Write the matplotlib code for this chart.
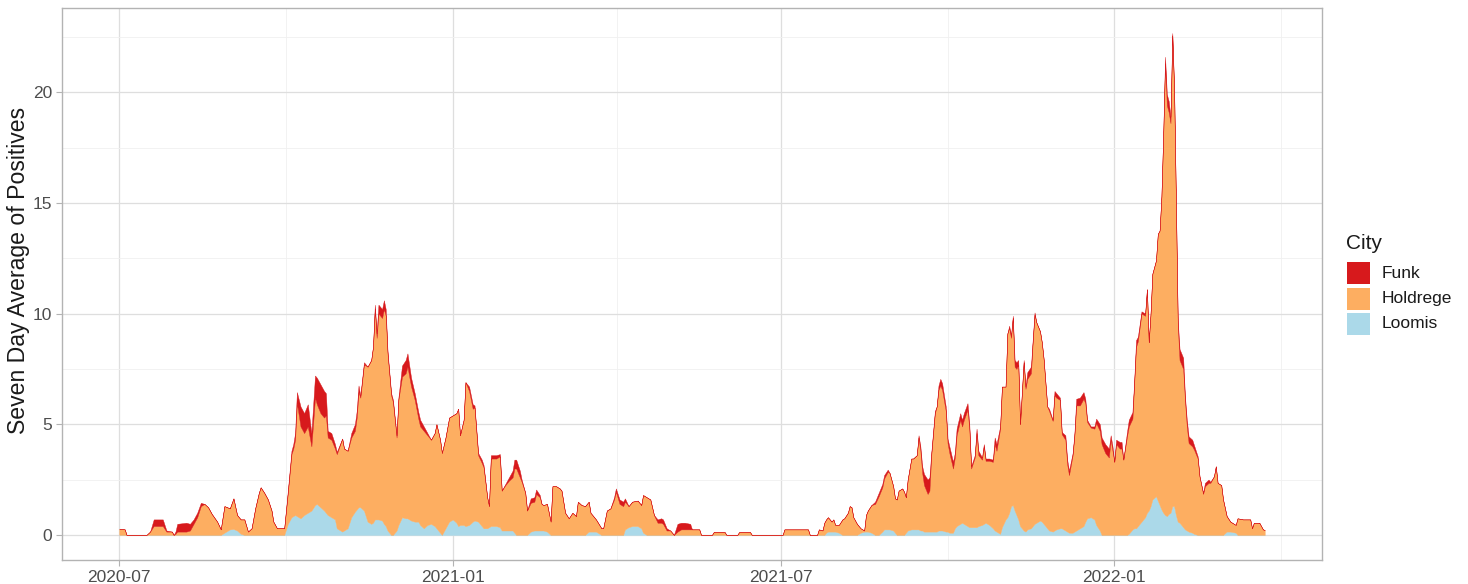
import numpy as np
import pandas as pd
import matplotlib
matplotlib.use("Agg")
import matplotlib.pyplot as plt
import matplotlib.dates as mdates
from matplotlib.patches import Rectangle
from matplotlib.ticker import FixedLocator, MultipleLocator

plt.rcParams['font.family'] = ['Liberation Sans', 'DejaVu Sans']

# ==== Data (days since 2020-07-01, seven day averages per city) ====
start = "2020-07-01"

day = [0, 3, 4, 15, 17, 19, 24, 26, 29, 30,
       31, 32, 37, 39, 41, 43, 45, 47, 49, 51,
       54, 56, 58, 61, 63, 65, 67, 69, 71, 73,
       75, 77, 78, 80, 82, 84, 85, 87, 91, 93,
       95, 96, 97, 98, 100, 102, 104, 106, 108, 109,
       111, 113, 114, 115, 117, 119, 120, 123, 124, 126,
       128, 130, 131, 132, 133, 135, 137, 139, 140, 141,
       142, 143, 145, 146, 147, 148, 150, 151, 153, 154,
       156, 158, 159, 161, 163, 165, 166, 168, 170, 172,
       174, 175, 177, 178, 180, 182, 184, 186, 187, 188,
       190, 191, 193, 195, 196, 198, 200, 201, 203, 204,
       205, 208, 210, 211, 213, 215, 217, 218, 219, 221,
       222, 224, 225, 227, 229, 230, 232, 233, 234, 236,
       238, 239, 241, 243, 244, 246, 248, 250, 252, 253,
       255, 257, 259, 260, 263, 266, 267, 269, 271, 273,
       274, 276, 278, 279, 281, 283, 286, 288, 289, 291,
       293, 295, 297, 299, 300, 302, 304, 306, 308, 310,
       312, 315, 316, 320, 321, 327, 328, 334, 335, 341,
       342, 348, 349, 366, 367, 380, 381, 385, 386, 388,
       389, 390, 391, 393, 394, 395, 397, 399, 400, 402,
       403, 404, 405, 407, 409, 411, 412, 413, 415, 417,
       419, 421, 422, 424, 425, 427, 428, 429, 430, 432,
       433, 434, 435, 437, 438, 440, 441, 442, 443, 444,
       446, 447, 448, 450, 451, 452, 453, 454, 456, 457,
       458, 460, 461, 462, 464, 465, 466, 468, 469, 470,
       472, 473, 474, 476, 477, 478, 480, 482, 483, 484,
       486, 487, 489, 490, 491, 492, 493, 494, 495, 496,
       497, 499, 500, 501, 503, 504, 505, 506, 508, 509,
       510, 512, 513, 515, 516, 517, 519, 520, 522, 523,
       524, 526, 527, 528, 530, 532, 533, 534, 536, 538,
       539, 541, 542, 544, 546, 547, 548, 549, 550, 552,
       553, 554, 556, 557, 559, 560, 561, 562, 564, 566,
       567, 568, 569, 570, 572, 573, 574, 575, 576, 577,
       578, 579, 580, 581, 582, 583, 584, 585, 587, 588,
       589, 590, 592, 593, 595, 596, 598, 599, 601, 602,
       604, 605, 606, 608, 609, 611, 613, 616, 617, 620,
       624, 625, 626, 629, 631, 632]

funk = [0, 0, 0, 0, 0, .3, .3, .05, 0, 0,
        .1, .35, .4, .3, .2, .2, .15, 0, 0, 0,
        0, 0, 0, 0, 0, 0, 0, 0, 0, 0,
        0, 0, 0, 0, 0, 0, 0, 0, 0, .1,
        .15, .2, .3, .5, .9, .9, 1.0, .6, 1.0, 1.2,
        1.3, 1.2, 1.0, .3, .3, .2, .1, 0, 0, 0,
        .2, .3, .3, .3, .1, .1, 0, 0, 0, .2,
        .2, .4, .4, .4, .3, .1, .1, .1, .1, .1,
        .5, .6, .6, .4, .3, .3, .3, .2, .1, 0,
        0, 0, 0, 0, 0, 0, 0, 0, 0, 0,
        0, 0, .2, .2, .1, .1, .15, .1, 0, 0,
        .15, .15, .1, 0, .05, .15, .3, .4, .4, .3,
        .1, 0, 0, .2, .2, .2, .1, 0, 0, 0,
        0, 0, 0, 0, 0, 0, 0, 0, 0, 0,
        0, 0, 0, 0, 0, 0, 0, 0, 0, .1,
        .15, .2, .2, .15, 0, 0, 0, 0, 0, 0,
        0, 0, .15, .2, .2, .1, 0, 0, .35, .3,
        .3, .25, 0, 0, 0, 0, 0, 0, 0, 0,
        0, 0, 0, 0, 0, 0, 0, 0, 0, 0,
        0, 0, 0, 0, 0, 0, 0, 0, 0, 0,
        0, 0, 0, 0, 0, 0, 0, 0, 0, .1,
        .15, .15, .15, .1, 0, 0, 0, 0, 0, 0,
        0, 0, 0, 0, 0, 0, .1, .2, .3, .5,
        .65, .6, .1, .1, 0, .2, .3, .3, .2, .2,
        .3, .3, .2, .3, .3, .3, .3, .3, .2, .1,
        .1, .2, .2, .1, .1, .1, .1, .1, .3, .3,
        .1, 0, 0, 0, .1, .1, .1, .3, .3, .2,
        0, .1, .1, .3, .3, .1, .1, 0, 0, 0,
        0, 0, .1, .05, .2, .2, .1, .1, .2, .2,
        .2, .1, .1, .3, .35, .3, .2, .1, .05, .1,
        .2, .3, .3, .4, .4, .2, .2, 0, .2, .3,
        .3, 0, .2, .3, .3, .1, .3, .2, .1, .1,
        0, 0, 0, 0, 0, 0, 0, 0, 0, .3,
        .5, .5, .3, .1, .1, 0, .2, .5, .5, .2,
        .3, .3, .3, .2, .1, 0, .05, .15, .15, .05,
        0, 0, 0, 0, 0, 0, 0, 0, 0, 0,
        0, 0, 0, 0, 0, 0]

holdrege = [.27, .25, 0, 0, .15, .4, .4, .15, .15, 0,
            .05, .15, .15, .2, .5, .8, 1.3, 1.4, 1.25, .95,
            .6, .25, 1.2, .95, 1.38, .7, .65, .7, .15, .3,
            1.2, 1.9, 2.15, 1.9, 1.6, 1.1, .6, .3, .3, 1.4,
            2.85, 3.05, 3.4, 5.1, 4.15, 3.7, 3.9, 2.9, 4.85, 4.5,
            4.25, 4.2, 4.4, 3.5, 3.5, 3.2, 3.35, 4.2, 3.7, 3.5,
            3.6, 3.65, 4.15, 5.2, 4.95, 6.6, 7.0, 7.4, 7.95, 9.5,
            8.2, 9.3, 9.15, 9.7, 9.5, 8.0, 6.3, 6.0, 4.2, 5.65,
            6.35, 6.55, 6.85, 6.05, 5.5, 4.65, 4.45, 4.4, 4.05, 3.8,
            4.2, 4.7, 4.2, 3.7, 4.1, 4.7, 4.7, 4.95, 5.3, 4.05,
            4.75, 6.5, 6.05, 5.1, 5.1, 3.0, 2.85, 2.75, 1.4, .95,
            3.05, 3.05, 3.2, 1.8, 2.05, 2.25, 2.4, 2.9, 3.0, 2.6,
            2.4, 1.9, 1.1, 1.3, 1.3, 1.65, 1.5, 1.2, 1.15, 1.25,
            .6, 2.2, 2.2, 2.1, 2.0, 1.0, .75, 1.0, .85, 1.5,
            1.35, 1.3, 1.35, .85, .55, .3, .3, 1.1, 1.2, 1.6,
            1.95, 1.4, 1.3, 1.25, .95, 1.1, 1.15, 1.05, 1.7, 1.7,
            1.6, .9, .55, .55, .5, .2, .2, 0, .15, .25,
            .25, .25, .25, .25, 0, 0, .13, .13, 0, 0,
            .13, .13, 0, 0, .25, .25, 0, 0, .25, .2,
            .55, .6, .65, .45, .55, .3, .35, .7, .75, 1.0,
            1.3, 1.25, .8, .5, .2, .05, .75, .95, 1.25, 1.4,
            1.75, 2.0, 2.3, 2.6, 2.55, 2.0, 1.55, 1.6, 2.0, 2.1,
            1.95, 1.6, 2.3, 3.2, 3.2, 3.35, 4.15, 3.6, 2.6, 2.1,
            1.7, 1.85, 3.45, 5.35, 5.65, 6.35, 6.55, 6.35, 5.45, 4.0,
            3.6, 2.9, 3.2, 4.1, 4.7, 4.35, 4.7, 5.25, 4.45, 2.65,
            3.15, 4.25, 3.2, 2.95, 3.5, 2.8, 2.9, 3.0, 3.9, 3.65,
            4.75, 6.35, 6.0, 8.3, 8.35, 7.6, 8.45, 6.5, 6.6, 7.0,
            4.6, 7.6, 6.45, 6.8, 7.0, 8.35, 9.45, 9.05, 8.55, 8.1,
            7.45, 5.5, 5.4, 5.0, 6.1, 5.95, 5.8, 4.25, 4.1, 3.05,
            2.6, 3.5, 4.35, 5.65, 5.55, 5.75, 5.35, 4.35, 4.05, 4.1,
            4.6, 4.5, 4.1, 3.7, 3.5, 4.3, 3.8, 3.3, 4.1, 3.9,
            3.9, 3.4, 4.45, 4.85, 5.0, 6.6, 8.2, 8.35, 9.4, 9.1,
            10.1, 7.6, 8.7, 10.2, 10.65, 12.05, 12.4, 14.15, 17.1, 20.4,
            18.55, 18.15, 17.6, 21.27, 18.8, 14.1, 8.9, 7.35, 7.15, 5.8,
            4.7, 4.0, 3.9, 3.8, 3.45, 2.65, 1.85, 2.2, 2.35, 2.35,
            2.65, 3.1, 2.35, 2.25, 1.6, .7, .45, .35, .75, .7,
            .7, .3, .55, .55, .25, .22]

loomis = [0, 0, 0, 0, 0, 0, 0, 0, 0, 0,
          0, 0, 0, 0, 0, 0, 0, 0, 0, 0,
          0, 0, .1, .25, .27, .2, .05, 0, 0, 0,
          0, 0, 0, 0, 0, 0, 0, 0, 0, .5,
          .8, .85, .9, .85, .75, .9, 1.0, 1.1, 1.35, 1.4,
          1.25, 1.1, 1.0, .9, .8, .7, .3, .15, .2, .3,
          .8, 1.05, 1.15, 1.25, 1.25, 1.1, .6, .5, .55, .7,
          .7, .7, .65, .5, .4, .2, 0, 0, .2, .45,
          .8, .75, .75, .65, .6, .6, .45, .3, .45, .5,
          .4, .3, .1, 0, .3, .6, .7, .55, .4, .45,
          .45, .4, .45, .6, .65, .6, .4, .3, .3, .35,
          .4, .4, .35, .2, .2, .2, .2, .1, 0, 0,
          0, 0, 0, .15, .2, .2, .2, .2, .2, .15,
          0, 0, 0, 0, 0, 0, 0, 0, 0, 0,
          0, 0, .15, .15, .15, 0, 0, 0, 0, 0,
          0, 0, 0, .25, .35, .4, .4, .3, .1, 0,
          0, 0, 0, 0, 0, 0, 0, 0, 0, 0,
          0, 0, 0, 0, 0, 0, 0, 0, 0, 0,
          0, 0, 0, 0, 0, 0, 0, 0, 0, 0,
          0, .1, .15, .15, .15, .15, .1, 0, 0, 0,
          0, 0, 0, 0, .1, .15, .15, .15, .1, 0,
          0, .15, .25, .25, .25, .2, .1, 0, 0, 0,
          0, .1, .2, .25, .25, .25, .25, .2, .2, .15,
          .15, .15, .15, .15, .15, .2, .2, .2, .15, .15,
          .1, .1, .3, .4, .5, .55, .5, .4, .35, .35,
          .35, .35, .4, .45, .5, .55, .45, .3, .2, .15,
          .05, .35, .7, .8, 1.0, 1.3, 1.35, 1.1, .9, .7,
          .4, .2, .15, .25, .3, .4, .5, .55, .65, .6,
          .5, .3, .2, .15, .2, .25, .3, .3, .2, .15,
          .1, .1, .15, .2, .3, .4, .6, .75, .8, .7,
          .45, .2, 0, 0, 0, 0, 0, 0, 0, 0,
          0, 0, 0, .05, .25, .3, .3, .4, .6, .8,
          1.0, 1.1, 1.3, 1.6, 1.75, 1.55, 1.35, 1.15, 1.0, .9,
          .85, .95, 1.0, 1.3, 1.3, .9, .6, .55, .35, .25,
          .2, .15, .1, .05, 0, 0, 0, 0, 0, 0,
          0, 0, 0, 0, 0, .15, .15, .1, 0, 0,
          0, 0, 0, 0, 0, 0]

cities = ["Funk", "Holdrege", "Loomis"]
colors = {"Funk": "#D7191C", "Holdrege": "#FDAE61", "Loomis": "#ABD9E9"}
tick_dates = ["2020-07-01", "2021-01-01", "2021-07-01", "2022-01-01"]

# ==== Plotting ====
dates = pd.Timestamp(start) + pd.to_timedelta(day, unit="D")
x = mdates.date2num(dates.to_pydatetime())
total = np.array(funk) + np.array(holdrege) + np.array(loomis)

W, H = 1468, 584
fig = plt.figure(figsize=(W / 100, H / 100), dpi=100)
ax = fig.add_axes([62 / W, 24 / H, 1260 / W, 552 / H])

polys = ax.stackplot(x, loomis, holdrege, funk,
                     colors=[colors["Loomis"], colors["Holdrege"], colors["Funk"]],
                     linewidth=0)
for p in polys:
    p.set_edgecolor(p.get_facecolor())
    p.set_linewidth(0.3)

# ggplot-like 5% expansion
xpad = 0.05 * (x.max() - x.min())
ax.set_xlim(x.min() - xpad, x.max() + xpad)
ax.set_ylim(-0.05 * total.max(), 1.05 * total.max())

majors = mdates.date2num(pd.to_datetime(tick_dates).to_pydatetime())
mids = list((majors[:-1] + majors[1:]) / 2) + [majors[-1] + (majors[-1] - majors[-2]) / 2]
ax.xaxis.set_major_locator(FixedLocator(majors))
ax.xaxis.set_minor_locator(FixedLocator(mids))
ax.xaxis.set_major_formatter(mdates.DateFormatter("%Y-%m"))
ax.yaxis.set_major_locator(MultipleLocator(5))
ax.yaxis.set_minor_locator(MultipleLocator(2.5))

ax.set_axisbelow(True)
ax.grid(which="major", color="#DEDEDE", linewidth=0.9)
ax.grid(which="minor", color="#F0F0F0", linewidth=0.6)
for s in ax.spines.values():
    s.set_color("#B3B3B3")
    s.set_linewidth(1.0)
ax.tick_params(which="major", color="#B3B3B3", length=4, width=0.8,
               labelsize=12.5, labelcolor="#4D4D4D", pad=3)
ax.tick_params(which="minor", length=0)

ax.set_ylabel("Seven Day Average of Positives", fontsize=16.6, color="#1A1A1A")
ax.yaxis.set_label_coords(-0.0255, 0.525)

# ==== Legend (ggplot style keys) ====
fig.text(1346 / W, 1 - 249 / H, "City", fontsize=15, color="#1A1A1A",
         ha="left", va="baseline")
for i, c in enumerate(cities):
    top = 262 + 25.5 * i
    fig.add_artist(Rectangle((1347 / W, 1 - (top + 22) / H), 23 / W, 22 / H,
                             transform=fig.transFigure, facecolor=colors[c],
                             edgecolor="none"))
    fig.text(1382 / W, 1 - (top + 11) / H, c, fontsize=12.5, color="#1A1A1A",
             ha="left", va="center")

fig.savefig("out.png", dpi=100)
